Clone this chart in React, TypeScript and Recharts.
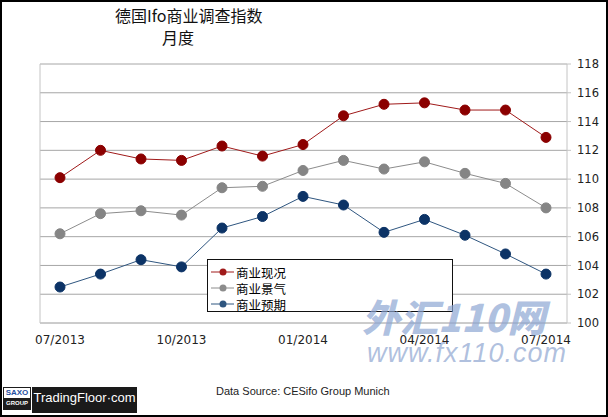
import React from "react";
import { CartesianGrid, Legend, Line, LineChart, XAxis, YAxis } from "recharts";

const months = [
  "07/2013", "08/2013", "09/2013", "10/2013", "11/2013", "12/2013", "01/2014",
  "02/2014", "03/2014", "04/2014", "05/2014", "06/2014", "07/2014",
];
const situation = [110.1, 112.0, 111.4, 111.3, 112.3, 111.6, 112.4, 114.4, 115.2, 115.3, 114.8, 114.8, 112.9];
const climate = [106.2, 107.6, 107.8, 107.5, 109.4, 109.5, 110.6, 111.3, 110.7, 111.2, 110.4, 109.7, 108.0];
const expectations = [102.5, 103.4, 104.4, 103.9, 106.6, 107.4, 108.8, 108.2, 106.3, 107.2, 106.1, 104.8, 103.4];
const seriesNames = ["商业现况", "商业景气", "商业预期"];
const xTicks = ["07/2013", "10/2013", "01/2014", "04/2014", "07/2014"];
const yTicks = [100, 102, 104, 106, 108, 110, 112, 114, 116, 118];

const data = months.map((m, i) => ({
  month: m,
  situation: situation[i],
  climate: climate[i],
  expectations: expectations[i],
}));

const cjk = '"Noto Sans CJK SC", sans-serif';

function LegendBox({ payload }: any) {
  const items = [...(payload || [])].sort(
    (a: any, b: any) => seriesNames.indexOf(a.value) - seriesNames.indexOf(b.value)
  );
  return (
    <div
      style={{
        width: 246,
        height: 53,
        boxSizing: "border-box",
        border: "1px solid #111",
        background: "#fff",
        paddingTop: 4,
      }}
    >
      {items.map((p: any) => (
        <div key={p.value} style={{ height: 16, display: "flex", alignItems: "center" }}>
          <svg width={27} height={12} style={{ marginLeft: 2 }}>
            <line x1={1} y1={6} x2={24} y2={6} stroke={p.color} strokeWidth={1} />
            <circle cx={13} cy={6} r={3.5} fill={p.color} />
          </svg>
          <span style={{ fontFamily: cjk, fontSize: 12.5, color: "#000", marginLeft: -1 }}>{p.value}</span>
        </div>
      ))}
    </div>
  );
}

export default function App() {
  return (
    <div style={{ position: "absolute", left: 0, top: 0, width: 608, height: 417, background: "#fff", overflow: "hidden" }}>
      <div style={{ position: "absolute", left: 115, top: 5, fontFamily: cjk, fontSize: 16, color: "#111", lineHeight: "20px" }}>
        德国Ifo商业调查指数
      </div>
      <div style={{ position: "absolute", left: 162, top: 27, fontFamily: cjk, fontSize: 16, color: "#111", lineHeight: "20px" }}>
        月度
      </div>
      <LineChart width={608} height={417} data={data} margin={{ top: 64, right: 0, left: 39, bottom: 64 }}>
        <CartesianGrid vertical={false} stroke="#a6a6a6" />
        <XAxis
          dataKey="month"
          ticks={xTicks}
          interval={0}
          padding={{ left: 20, right: 21 }}
          height={30}
          tickSize={0}
          tickMargin={12}
          axisLine={{ stroke: "#c4c4c4" }}
          tickLine={false}
          tick={{ fontFamily: "DejaVu Sans", fontSize: 12, fill: "#222" }}
        />
        <YAxis
          yAxisId="left"
          orientation="left"
          width={1}
          domain={[100, 118]}
          ticks={yTicks}
          tick={false}
          tickLine={false}
          axisLine={{ stroke: "#c4c4c4" }}
        />
        <YAxis
          orientation="right"
          width={41}
          domain={[100, 118]}
          ticks={yTicks}
          interval={0}
          tickSize={4}
          tickMargin={6}
          axisLine={{ stroke: "#c4c4c4" }}
          tickLine={{ stroke: "#c4c4c4" }}
          tick={{ fontFamily: "DejaVu Sans", fontSize: 11.5, fill: "#222" }}
        />
        <Legend
          layout="vertical"
          align="center"
          verticalAlign="middle"
          content={<LegendBox />}
          wrapperStyle={{ left: 207, top: 259, width: 246, height: 53 }}
        />
        <Line
          dataKey="situation"
          name={seriesNames[0]}
          stroke="#a01a1a"
          strokeWidth={1}
          dot={{ r: 5, fill: "#8b0000", stroke: "#8b0000", strokeWidth: 1 }}
          isAnimationActive={false}
        />
        <Line
          dataKey="climate"
          name={seriesNames[1]}
          stroke="#8c8c8c"
          strokeWidth={1}
          dot={{ r: 5, fill: "#858585", stroke: "#858585", strokeWidth: 1 }}
          isAnimationActive={false}
        />
        <Line
          dataKey="expectations"
          name={seriesNames[2]}
          stroke="#2f5680"
          strokeWidth={1}
          dot={{ r: 5, fill: "#0c3366", stroke: "#0c3366", strokeWidth: 1 }}
          isAnimationActive={false}
        />
      </LineChart>
      <div
        style={{
          position: "absolute",
          left: 362,
          top: 294,
          fontFamily: cjk,
          fontWeight: 900,
          fontStyle: "italic",
          fontSize: 38,
          color: "rgba(140,165,210,0.7)",
          letterSpacing: 0,
          lineHeight: "44px",
        }}
      >
        外汇110网
      </div>
      <div
        style={{
          position: "absolute",
          left: 367,
          top: 338,
          fontFamily: "Liberation Sans",
          fontStyle: "italic",
          fontSize: 27,
          color: "rgba(150,172,212,0.75)",
          letterSpacing: 1,
          lineHeight: "30px",
        }}
      >
        www.fx110.com
      </div>
      <div
        style={{
          position: "absolute",
          left: 216,
          top: 383,
          fontFamily: "Liberation Sans",
          fontSize: 11,
          color: "#222",
          lineHeight: "16px",
        }}
      >
        Data Source: CESifo Group Munich
      </div>
      <div
        style={{
          position: "absolute",
          left: 3,
          top: 387,
          width: 28,
          height: 23,
          background: "#1d1d1d",
          fontFamily: "Liberation Sans",
          fontWeight: 700,
          textAlign: "center",
        }}
      >
        <div style={{ background: "#fff", color: "#1f4fa0", fontSize: 8, lineHeight: "10px", margin: "1px 1px 0" }}>SAXO</div>
        <div style={{ color: "#fff", fontSize: 6, lineHeight: "10px" }}>GROUP</div>
      </div>
      <div
        style={{
          position: "absolute",
          left: 32,
          top: 387,
          width: 105,
          height: 26,
          background: "#1a1a1a",
          color: "#fff",
          fontFamily: "Liberation Sans",
          fontSize: 13,
          lineHeight: "22px",
          textAlign: "center",
        }}
      >
        TradingFloor·com
      </div>
      <div
        style={{
          position: "absolute",
          left: 0,
          top: 0,
          width: 608,
          height: 417,
          boxSizing: "border-box",
          border: "2px solid #000",
          pointerEvents: "none",
        }}
      />
    </div>
  );
}
